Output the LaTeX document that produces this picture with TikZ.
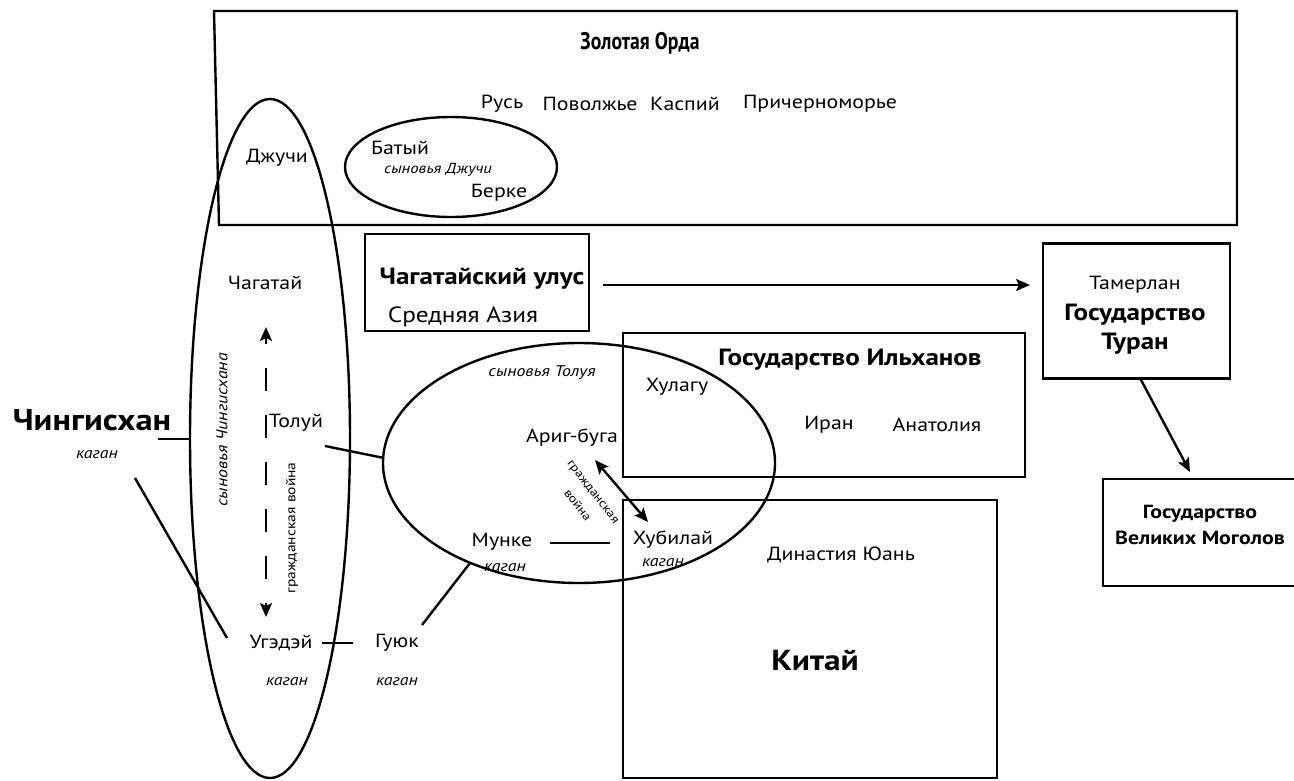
\documentclass[tikz,border=0pt]{standalone}
\usepackage{fontspec}
\setmainfont{PT Sans}[FakeStretch=1.15]
\newfontfamily\condfont{PT Sans}[FakeStretch=0.82]
\usetikzlibrary{arrows.meta}

\begin{document}
\begin{tikzpicture}[x=1pt,y=-1pt,
  txt/.style={inner sep=0pt,font=\fontsize{19}{22}\selectfont},
  hd/.style={inner sep=0pt,align=center,font=\fontsize{23.5}{28}\bfseries\selectfont},
  kag/.style={inner sep=0pt,font=\fontsize{15.5}{17}\itshape\selectfont},
  note/.style={inner sep=0pt,font=\fontsize{12}{13}\selectfont},
  frame/.style={draw,line width=2.4pt,inner sep=0pt},
  conn/.style={line width=2.4pt},
  arr/.style={line width=2.4pt,-{Stealth[length=14pt,width=12pt,inset=3pt]}},
  darr/.style={line width=2.4pt,{Stealth[length=14pt,width=12pt,inset=3pt]}-{Stealth[length=14pt,width=12pt,inset=3pt]}}
]
\useasboundingbox (0,0) rectangle (1294,780);
\clip (0,0) rectangle (1294,780);
\fill[white] (0,0) rectangle (1294,780);

% ---- territories ----
\draw[conn] (214,11) -- (1237,11) -- (1237,225) -- (219,225) -- cycle;
\node[frame,minimum width=224pt,minimum height=97pt] (chbox) at (477,282.5) {};
\node[frame,minimum width=187pt,minimum height=135pt] (turbox) at (1136.5,311) {};
\node[frame,minimum width=200pt,minimum height=107pt] (mogbox) at (1203,532.5) {};
\node[frame,minimum width=402pt,minimum height=144pt] (ilbox) at (824,405) {};
\node[frame,minimum width=374pt,minimum height=278pt] (kitbox) at (810,639) {};

% ---- groupings of sons ----
\draw[conn] (270,438.5) ellipse [x radius=80, y radius=339.5];
\draw[conn] (451,167) ellipse [x radius=106, y radius=50];
\draw[conn] (579,463) ellipse [x radius=196, y radius=120];

% ---- Golden Horde ----
\node[inner sep=0pt,font=\condfont\fontsize{24}{27}\bfseries\selectfont] (zo) at (640,43) {Золотая Орда};
\node[txt] (rus) at (502,104) {Русь};
\node[txt] (pov) at (590,104) {Поволжье};
\node[txt] (kas) at (685,104) {Каспий};
\node[txt] (pri) at (820,104) {Причерноморье};
\node[txt] (batu) at (400,148) {Батый};
\node[kag,font=\fontsize{14.5}{16}\itshape\selectfont] (sdj) at (438,170) {сыновья Джучи};
\node[txt] (berke) at (499,193) {Берке};

% ---- Genghis Khan and his sons ----
\node[inner sep=0pt,font=\fontsize{30}{34}\bfseries\selectfont] (chingis) at (92,420) {Чингисхан};
\node[kag] (chk) at (97,455) {каган};
\node[kag,rotate=90] (sch) at (222,430) {сыновья Чингисхана};
\node[txt] (djuchi) at (277,158) {Джучи};
\node[txt] (chag) at (265,283) {Чагатай};
\node[txt] (tolui) at (296,423) {Толуй};
\node[txt] (ugedei) at (281,643) {Угэдэй};
\node[kag] (ugk) at (287,682) {каган};
\node[txt] (guyuk) at (397,643) {Гуюк};
\node[kag] (guk) at (397,682) {каган};
\node[inner sep=0pt,font=\fontsize{13.5}{15}\selectfont,rotate=90] (cw1) at (292,528) {гражданская война};

% ---- Chagatai ulus ----
\node[hd] (chul) at (482,279) {Чагатайский улус};
\node[inner sep=0pt,font=\fontsize{22}{24}\selectfont] (sra) at (463,317) {Средняя Азия};

% ---- Turan and the Mughals ----
\node[txt] (tam) at (1135,285) {Тамерлан};
\node[hd,font=\fontsize{23.5}{29}\bfseries\selectfont] (turan) at (1135,329) {Государство\\Туран};
\node[hd,font=\fontsize{19}{26}\bfseries\selectfont] (mog) at (1200,525) {Государство\\Великих Моголов};

% ---- sons of Tolui ----
\node[kag] (stol) at (542,373) {сыновья Толуя};
\node[txt] (arig) at (572,438) {Ариг-буга};
\node[txt] (munke) at (502,542) {Мунке};
\node[kag] (mk) at (505,568) {каган};
\node[txt] (khub) at (673,540) {Хубилай};
\node[kag] (khk) at (663,563) {каган};
\node[note,rotate=-52] (cw2a) at (592,493) {гражданская};
\node[note,rotate=-52] (cw2b) at (578,505) {война};

% ---- Ilkhanate and China ----
\node[hd] (ilh) at (850,360) {Государство Ильханов};
\node[txt] (hul) at (677,387) {Хулагу};
\node[txt] (iran) at (829,425) {Иран};
\node[txt] (anat) at (937,425) {Анатолия};
\node[txt] (yuan) at (841,555) {Династия Юань};
\node[hd,font=\fontsize{29}{32}\bfseries\selectfont] (kitai) at (815,660) {Китай};

% ---- connector end points ----
\coordinate (chR) at (158,439);
\coordinate (elL) at (190,439);
\coordinate (chD) at (135,478);
\coordinate (ugL) at (227,638);
\coordinate (toR) at (325,446);
\coordinate (tlL) at (384,458);
\coordinate (ugR) at (322,643);
\coordinate (guL) at (353,643);
\coordinate (guR) at (422,625);
\coordinate (muD) at (470,563);
\coordinate (muR) at (550,543);
\coordinate (khL) at (610,543);
\coordinate (cwT) at (266,327);
\coordinate (cwT2) at (266,341);
\coordinate (cwB) at (266,617);
\coordinate (cwB2) at (266,603);
\coordinate (arD) at (595,460);
\coordinate (khU) at (648,522);
\coordinate (chbR) at (603,285);
\coordinate (turL) at (1030,285);
\coordinate (turD) at (1140,378);
\coordinate (mogU) at (1190,472);

% ---- connectors ----
\draw[conn] (chR) -- (elL);
\draw[conn] (chD) -- (ugL);
\draw[conn] (toR) -- (tlL);
\draw[conn] (ugR) -- (guL);
\draw[conn] (guR) -- (muD);
\draw[conn] (muR) -- (khL);
% dashed civil-war arrow between Chagatai and Ogedei
\draw[conn,dash pattern=on 23pt off 24pt,dash phase=20.5pt] (cwT2) -- (cwB2);
\draw[arr] (cwT2) -- (cwT);
\draw[arr] (cwB2) -- (cwB);
\draw[darr] (arD) -- (khU);
\draw[arr] (chbR) -- (turL);
\draw[arr] (turD) -- (mogU);
\end{tikzpicture}
\end{document}
